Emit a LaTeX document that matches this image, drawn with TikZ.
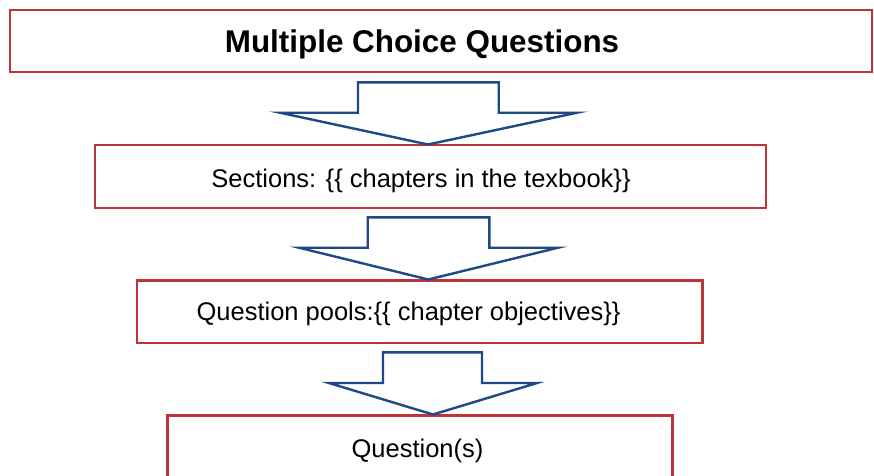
\documentclass[tikz,border=0pt]{standalone}
\usepackage{fontspec}
\setmainfont{Liberation Sans}
\definecolor{boxred}{RGB}{190,52,56}
\definecolor{arrowblue}{RGB}{31,72,134}
\begin{document}
\begin{tikzpicture}[x=1pt,y=-1pt,
  box/.style={draw=boxred, line width=2.4pt, rectangle, inner sep=0pt, fill=white},
  label/.style={anchor=base, inner sep=0pt, font=\fontsize{25.5}{30}\selectfont},
  titlelabel/.style={anchor=base, inner sep=0pt, font=\fontsize{31.4}{36}\selectfont\bfseries},
  blockarrow/.style={draw=arrowblue, line width=2.4pt, fill=white, line join=miter}]
\useasboundingbox (0,0) rectangle (874,475);
\fill[white] (0,0) rectangle (874,475);
% boxes
\node[box, minimum width=862pt, minimum height=62pt] (b1) at (441,41.2) {};
\node[box, minimum width=671pt, minimum height=63pt] (b2) at (430.2,176.5) {};
\node[box, minimum width=565.7pt, minimum height=62.7pt] (b3) at (419.8,311.7) {};
\node[box, minimum width=505pt, minimum height=64pt] (b4) at (419.8,447.3) {};
% labels
\node[titlelabel] (t1) at (422,52.5) {Multiple Choice Questions};
\node[label] (t2) at (421,187) {Sections: \{\{ chapters in the texbook\}\}};
\node[label] (t3) at (408.5,320) {Question pools:\{\{ chapter objectives\}\}};
\node[label] (t4) at (417.5,457.5) {Question(s)};
% block arrows
\coordinate (a1tip) at (428,144.5);
\coordinate (a2tip) at (428.3,279.5);
\coordinate (a3tip) at (433,414.5);
\draw[blockarrow] (358,112.7) -- (358,82.3) -- (498.7,82.3) -- (498.7,112.7)
  -- (577,112.7) -- (a1tip) -- (280,112.7) -- cycle;
\draw[blockarrow] (367.7,247.7) -- (367.7,217.3) -- (489.3,217.3) -- (489.3,247.7)
  -- (558,247.7) -- (a2tip) -- (299,247.7) -- cycle;
\draw[blockarrow] (383,383) -- (383,352.3) -- (482,352.3) -- (482,383)
  -- (537,383) -- (a3tip) -- (329,383) -- cycle;
\end{tikzpicture}
\end{document}
